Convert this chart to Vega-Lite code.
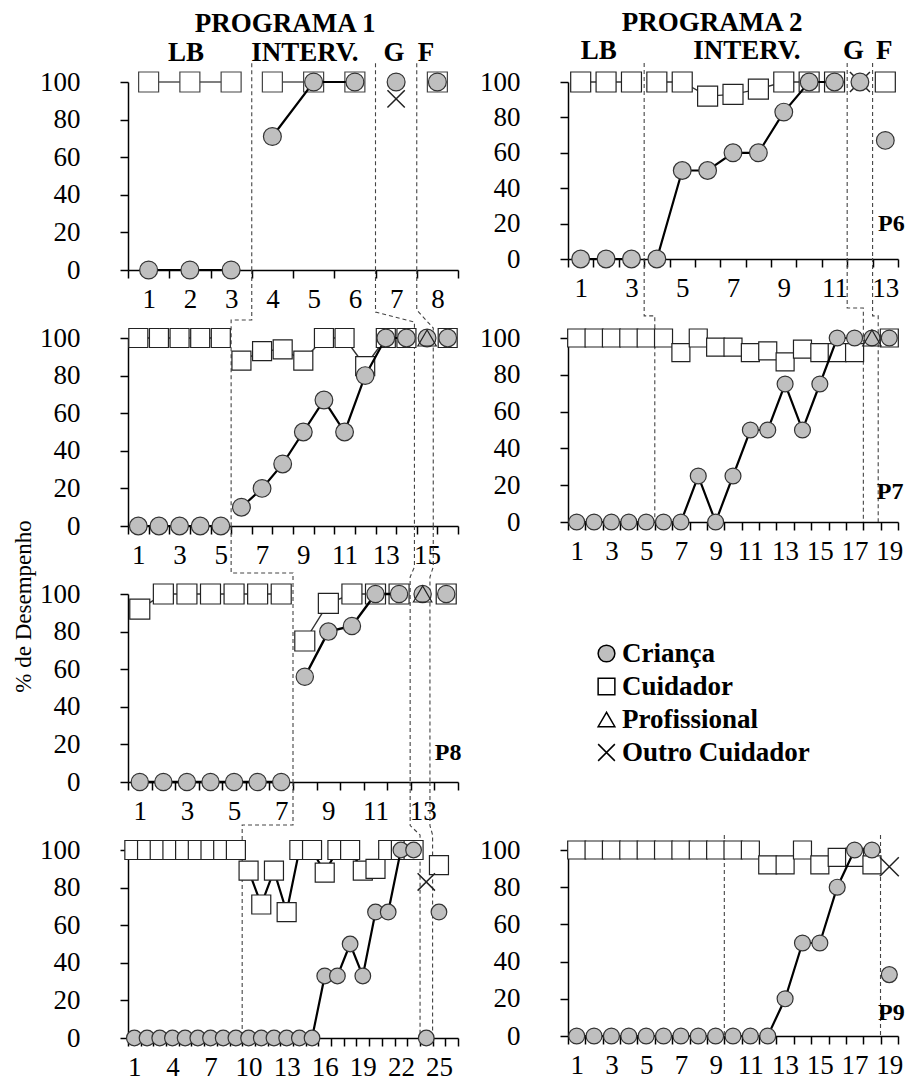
{
  "$schema": "https://vega.github.io/schema/vega-lite/v6.json",
  "padding": {"left": 12, "top": 9, "right": 5, "bottom": 5},
  "background": "white",
  "datasets": {
    "pts": [
      {"p":"a1","s":"u","x":1,"y":100,"f":"L"},{"p":"a1","s":"u","x":2,"y":100,"f":"L"},{"p":"a1","s":"u","x":3,"y":100,"f":"L"},
      {"p":"a1","s":"u","x":4,"y":100,"f":"I"},{"p":"a1","s":"u","x":5,"y":100,"f":"I"},{"p":"a1","s":"u","x":6,"y":100,"f":"I"},
      {"p":"a1","s":"u","x":8,"y":100,"f":"F"},
      {"p":"a1","s":"c","x":1,"y":0,"f":"L"},{"p":"a1","s":"c","x":2,"y":0,"f":"L"},{"p":"a1","s":"c","x":3,"y":0,"f":"L"},
      {"p":"a1","s":"c","x":4,"y":71,"f":"I"},{"p":"a1","s":"c","x":5,"y":100,"f":"I"},{"p":"a1","s":"c","x":6,"y":100,"f":"I"},
      {"p":"a1","s":"c","x":7,"y":100,"f":"G"},{"p":"a1","s":"c","x":8,"y":100,"f":"F"},
      {"p":"a1","s":"o","x":7,"y":91,"f":"G"},

      {"p":"b1","s":"u","x":1,"y":100,"f":"L"},{"p":"b1","s":"u","x":2,"y":100,"f":"L"},{"p":"b1","s":"u","x":3,"y":100,"f":"L"},
      {"p":"b1","s":"u","x":4,"y":100,"f":"I"},{"p":"b1","s":"u","x":5,"y":100,"f":"I"},{"p":"b1","s":"u","x":6,"y":92,"f":"I"},
      {"p":"b1","s":"u","x":7,"y":93,"f":"I"},{"p":"b1","s":"u","x":8,"y":96,"f":"I"},{"p":"b1","s":"u","x":9,"y":100,"f":"I"},
      {"p":"b1","s":"u","x":10,"y":100,"f":"I"},{"p":"b1","s":"u","x":11,"y":100,"f":"I"},
      {"p":"b1","s":"u","x":13,"y":100,"f":"F"},
      {"p":"b1","s":"c","x":1,"y":0,"f":"L"},{"p":"b1","s":"c","x":2,"y":0,"f":"L"},{"p":"b1","s":"c","x":3,"y":0,"f":"L"},
      {"p":"b1","s":"c","x":4,"y":0,"f":"I"},{"p":"b1","s":"c","x":5,"y":50,"f":"I"},{"p":"b1","s":"c","x":6,"y":50,"f":"I"},
      {"p":"b1","s":"c","x":7,"y":60,"f":"I"},{"p":"b1","s":"c","x":8,"y":60,"f":"I"},{"p":"b1","s":"c","x":9,"y":83,"f":"I"},
      {"p":"b1","s":"c","x":10,"y":100,"f":"I"},{"p":"b1","s":"c","x":11,"y":100,"f":"I"},
      {"p":"b1","s":"c","x":12,"y":100,"f":"G"},{"p":"b1","s":"c","x":13,"y":67,"f":"F"},
      {"p":"b1","s":"o","x":12,"y":100,"f":"G"},

      {"p":"a2","s":"u","x":1,"y":100,"f":"L"},{"p":"a2","s":"u","x":2,"y":100,"f":"L"},{"p":"a2","s":"u","x":3,"y":100,"f":"L"},
      {"p":"a2","s":"u","x":4,"y":100,"f":"L"},{"p":"a2","s":"u","x":5,"y":100,"f":"L"},
      {"p":"a2","s":"u","x":6,"y":88,"f":"I"},{"p":"a2","s":"u","x":7,"y":93,"f":"I"},{"p":"a2","s":"u","x":8,"y":94,"f":"I"},
      {"p":"a2","s":"u","x":9,"y":88,"f":"I"},{"p":"a2","s":"u","x":10,"y":100,"f":"I"},{"p":"a2","s":"u","x":11,"y":100,"f":"I"},
      {"p":"a2","s":"u","x":12,"y":85,"f":"I"},{"p":"a2","s":"u","x":13,"y":100,"f":"I"},{"p":"a2","s":"u","x":14,"y":100,"f":"I"},
      {"p":"a2","s":"u","x":16,"y":100,"f":"F"},
      {"p":"a2","s":"c","x":1,"y":0,"f":"L"},{"p":"a2","s":"c","x":2,"y":0,"f":"L"},{"p":"a2","s":"c","x":3,"y":0,"f":"L"},
      {"p":"a2","s":"c","x":4,"y":0,"f":"L"},{"p":"a2","s":"c","x":5,"y":0,"f":"L"},
      {"p":"a2","s":"c","x":6,"y":10,"f":"I"},{"p":"a2","s":"c","x":7,"y":20,"f":"I"},{"p":"a2","s":"c","x":8,"y":33,"f":"I"},
      {"p":"a2","s":"c","x":9,"y":50,"f":"I"},{"p":"a2","s":"c","x":10,"y":67,"f":"I"},{"p":"a2","s":"c","x":11,"y":50,"f":"I"},
      {"p":"a2","s":"c","x":12,"y":80,"f":"I"},{"p":"a2","s":"c","x":13,"y":100,"f":"I"},{"p":"a2","s":"c","x":14,"y":100,"f":"I"},
      {"p":"a2","s":"c","x":15,"y":100,"f":"G"},{"p":"a2","s":"c","x":16,"y":100,"f":"F"},
      {"p":"a2","s":"p","x":15,"y":100,"f":"G"},

      {"p":"b2","s":"u","x":1,"y":100,"f":"L"},{"p":"b2","s":"u","x":2,"y":100,"f":"L"},{"p":"b2","s":"u","x":3,"y":100,"f":"L"},
      {"p":"b2","s":"u","x":4,"y":100,"f":"L"},{"p":"b2","s":"u","x":5,"y":100,"f":"L"},
      {"p":"b2","s":"u","x":6,"y":100,"f":"I"},{"p":"b2","s":"u","x":7,"y":92,"f":"I"},{"p":"b2","s":"u","x":8,"y":100,"f":"I"},
      {"p":"b2","s":"u","x":9,"y":95,"f":"I"},{"p":"b2","s":"u","x":10,"y":95,"f":"I"},{"p":"b2","s":"u","x":11,"y":92,"f":"I"},
      {"p":"b2","s":"u","x":12,"y":93,"f":"I"},{"p":"b2","s":"u","x":13,"y":87,"f":"I"},{"p":"b2","s":"u","x":14,"y":94,"f":"I"},
      {"p":"b2","s":"u","x":15,"y":92,"f":"I"},{"p":"b2","s":"u","x":16,"y":92,"f":"I"},{"p":"b2","s":"u","x":17,"y":92,"f":"I"},
      {"p":"b2","s":"u","x":19,"y":100,"f":"F"},
      {"p":"b2","s":"c","x":1,"y":0,"f":"L"},{"p":"b2","s":"c","x":2,"y":0,"f":"L"},{"p":"b2","s":"c","x":3,"y":0,"f":"L"},
      {"p":"b2","s":"c","x":4,"y":0,"f":"L"},{"p":"b2","s":"c","x":5,"y":0,"f":"L"},
      {"p":"b2","s":"c","x":6,"y":0,"f":"I"},{"p":"b2","s":"c","x":7,"y":0,"f":"I"},{"p":"b2","s":"c","x":8,"y":25,"f":"I"},
      {"p":"b2","s":"c","x":9,"y":0,"f":"I"},{"p":"b2","s":"c","x":10,"y":25,"f":"I"},{"p":"b2","s":"c","x":11,"y":50,"f":"I"},
      {"p":"b2","s":"c","x":12,"y":50,"f":"I"},{"p":"b2","s":"c","x":13,"y":75,"f":"I"},{"p":"b2","s":"c","x":14,"y":50,"f":"I"},
      {"p":"b2","s":"c","x":15,"y":75,"f":"I"},{"p":"b2","s":"c","x":16,"y":100,"f":"I"},{"p":"b2","s":"c","x":17,"y":100,"f":"I"},
      {"p":"b2","s":"c","x":18,"y":100,"f":"G"},{"p":"b2","s":"c","x":19,"y":100,"f":"F"},
      {"p":"b2","s":"p","x":18,"y":100,"f":"G"},

      {"p":"a3","s":"u","x":1,"y":92,"f":"L"},{"p":"a3","s":"u","x":2,"y":100,"f":"L"},{"p":"a3","s":"u","x":3,"y":100,"f":"L"},
      {"p":"a3","s":"u","x":4,"y":100,"f":"L"},{"p":"a3","s":"u","x":5,"y":100,"f":"L"},{"p":"a3","s":"u","x":6,"y":100,"f":"L"},
      {"p":"a3","s":"u","x":7,"y":100,"f":"L"},
      {"p":"a3","s":"u","x":8,"y":75,"f":"I"},{"p":"a3","s":"u","x":9,"y":95,"f":"I"},{"p":"a3","s":"u","x":10,"y":100,"f":"I"},
      {"p":"a3","s":"u","x":11,"y":100,"f":"I"},{"p":"a3","s":"u","x":12,"y":100,"f":"I"},
      {"p":"a3","s":"u","x":14,"y":100,"f":"F"},
      {"p":"a3","s":"c","x":1,"y":0,"f":"L"},{"p":"a3","s":"c","x":2,"y":0,"f":"L"},{"p":"a3","s":"c","x":3,"y":0,"f":"L"},
      {"p":"a3","s":"c","x":4,"y":0,"f":"L"},{"p":"a3","s":"c","x":5,"y":0,"f":"L"},{"p":"a3","s":"c","x":6,"y":0,"f":"L"},
      {"p":"a3","s":"c","x":7,"y":0,"f":"L"},
      {"p":"a3","s":"c","x":8,"y":56,"f":"I"},{"p":"a3","s":"c","x":9,"y":80,"f":"I"},{"p":"a3","s":"c","x":10,"y":83,"f":"I"},
      {"p":"a3","s":"c","x":11,"y":100,"f":"I"},{"p":"a3","s":"c","x":12,"y":100,"f":"I"},
      {"p":"a3","s":"c","x":13,"y":100,"f":"G"},{"p":"a3","s":"c","x":14,"y":100,"f":"F"},
      {"p":"a3","s":"p","x":13,"y":100,"f":"G"},

      {"p":"a4","s":"u","x":1,"y":100,"f":"L"},{"p":"a4","s":"u","x":2,"y":100,"f":"L"},{"p":"a4","s":"u","x":3,"y":100,"f":"L"},
      {"p":"a4","s":"u","x":4,"y":100,"f":"L"},{"p":"a4","s":"u","x":5,"y":100,"f":"L"},{"p":"a4","s":"u","x":6,"y":100,"f":"L"},
      {"p":"a4","s":"u","x":7,"y":100,"f":"L"},{"p":"a4","s":"u","x":8,"y":100,"f":"L"},{"p":"a4","s":"u","x":9,"y":100,"f":"L"},
      {"p":"a4","s":"u","x":10,"y":89,"f":"I"},{"p":"a4","s":"u","x":11,"y":71,"f":"I"},{"p":"a4","s":"u","x":12,"y":89,"f":"I"},
      {"p":"a4","s":"u","x":13,"y":67,"f":"I"},{"p":"a4","s":"u","x":14,"y":100,"f":"I"},{"p":"a4","s":"u","x":15,"y":100,"f":"I"},
      {"p":"a4","s":"u","x":16,"y":88,"f":"I"},{"p":"a4","s":"u","x":17,"y":100,"f":"I"},{"p":"a4","s":"u","x":18,"y":100,"f":"I"},
      {"p":"a4","s":"u","x":19,"y":89,"f":"I"},{"p":"a4","s":"u","x":20,"y":90,"f":"I"},{"p":"a4","s":"u","x":21,"y":100,"f":"I"},
      {"p":"a4","s":"u","x":22,"y":100,"f":"I"},{"p":"a4","s":"u","x":23,"y":100,"f":"I"},
      {"p":"a4","s":"u","x":25,"y":92,"f":"F"},
      {"p":"a4","s":"c","x":1,"y":0,"f":"L"},{"p":"a4","s":"c","x":2,"y":0,"f":"L"},{"p":"a4","s":"c","x":3,"y":0,"f":"L"},
      {"p":"a4","s":"c","x":4,"y":0,"f":"L"},{"p":"a4","s":"c","x":5,"y":0,"f":"L"},{"p":"a4","s":"c","x":6,"y":0,"f":"L"},
      {"p":"a4","s":"c","x":7,"y":0,"f":"L"},{"p":"a4","s":"c","x":8,"y":0,"f":"L"},{"p":"a4","s":"c","x":9,"y":0,"f":"L"},
      {"p":"a4","s":"c","x":10,"y":0,"f":"I"},{"p":"a4","s":"c","x":11,"y":0,"f":"I"},{"p":"a4","s":"c","x":12,"y":0,"f":"I"},
      {"p":"a4","s":"c","x":13,"y":0,"f":"I"},{"p":"a4","s":"c","x":14,"y":0,"f":"I"},{"p":"a4","s":"c","x":15,"y":0,"f":"I"},
      {"p":"a4","s":"c","x":16,"y":33,"f":"I"},{"p":"a4","s":"c","x":17,"y":33,"f":"I"},{"p":"a4","s":"c","x":18,"y":50,"f":"I"},
      {"p":"a4","s":"c","x":19,"y":33,"f":"I"},{"p":"a4","s":"c","x":20,"y":67,"f":"I"},{"p":"a4","s":"c","x":21,"y":67,"f":"I"},
      {"p":"a4","s":"c","x":22,"y":100,"f":"I"},{"p":"a4","s":"c","x":23,"y":100,"f":"I"},
      {"p":"a4","s":"c","x":24,"y":0,"f":"G"},{"p":"a4","s":"c","x":25,"y":67,"f":"F"},
      {"p":"a4","s":"o","x":24,"y":83,"f":"G"},

      {"p":"b4","s":"u","x":1,"y":100,"f":"L"},{"p":"b4","s":"u","x":2,"y":100,"f":"L"},{"p":"b4","s":"u","x":3,"y":100,"f":"L"},
      {"p":"b4","s":"u","x":4,"y":100,"f":"L"},{"p":"b4","s":"u","x":5,"y":100,"f":"L"},{"p":"b4","s":"u","x":6,"y":100,"f":"L"},
      {"p":"b4","s":"u","x":7,"y":100,"f":"L"},{"p":"b4","s":"u","x":8,"y":100,"f":"L"},{"p":"b4","s":"u","x":9,"y":100,"f":"L"},
      {"p":"b4","s":"u","x":10,"y":100,"f":"I"},{"p":"b4","s":"u","x":11,"y":100,"f":"I"},{"p":"b4","s":"u","x":12,"y":92,"f":"I"},
      {"p":"b4","s":"u","x":13,"y":92,"f":"I"},{"p":"b4","s":"u","x":14,"y":100,"f":"I"},{"p":"b4","s":"u","x":15,"y":92,"f":"I"},
      {"p":"b4","s":"u","x":16,"y":96,"f":"I"},{"p":"b4","s":"u","x":17,"y":96,"f":"I"},{"p":"b4","s":"u","x":18,"y":92,"f":"I"},
      {"p":"b4","s":"c","x":1,"y":0,"f":"L"},{"p":"b4","s":"c","x":2,"y":0,"f":"L"},{"p":"b4","s":"c","x":3,"y":0,"f":"L"},
      {"p":"b4","s":"c","x":4,"y":0,"f":"L"},{"p":"b4","s":"c","x":5,"y":0,"f":"L"},{"p":"b4","s":"c","x":6,"y":0,"f":"L"},
      {"p":"b4","s":"c","x":7,"y":0,"f":"L"},{"p":"b4","s":"c","x":8,"y":0,"f":"L"},{"p":"b4","s":"c","x":9,"y":0,"f":"L"},
      {"p":"b4","s":"c","x":10,"y":0,"f":"I"},{"p":"b4","s":"c","x":11,"y":0,"f":"I"},{"p":"b4","s":"c","x":12,"y":0,"f":"I"},
      {"p":"b4","s":"c","x":13,"y":20,"f":"I"},{"p":"b4","s":"c","x":14,"y":50,"f":"I"},{"p":"b4","s":"c","x":15,"y":50,"f":"I"},
      {"p":"b4","s":"c","x":16,"y":80,"f":"I"},{"p":"b4","s":"c","x":17,"y":100,"f":"I"},{"p":"b4","s":"c","x":18,"y":100,"f":"I"},
      {"p":"b4","s":"c","x":19,"y":33,"f":"F"},
      {"p":"b4","s":"o","x":19,"y":91,"f":"F"}
    ],
    "guides": [
      {"p":"a1","g":"L","k":1,"xf":0.375,"y":110},{"p":"a1","g":"L","k":2,"xf":0.375,"y":0},
      {"p":"a1","g":"G","k":1,"xf":0.75,"y":110},{"p":"a1","g":"G","k":2,"xf":0.75,"y":0},
      {"p":"a1","g":"F","k":1,"xf":0.875,"y":110},{"p":"a1","g":"F","k":2,"xf":0.875,"y":0},

      {"p":"a2","g":"L","k":1,"xf":0.375,"y":136.2},{"p":"a2","g":"L","k":2,"xf":0.375,"y":109.6},{"p":"a2","g":"L","k":3,"xf":0.3125,"y":109.6},{"p":"a2","g":"L","k":4,"xf":0.3125,"y":0},
      {"p":"a2","g":"G","k":1,"xf":0.75,"y":136.2},{"p":"a2","g":"G","k":2,"xf":0.75,"y":113.8},{"p":"a2","g":"G","k":3,"xf":0.868,"y":108.5},{"p":"a2","g":"G","k":4,"xf":0.868,"y":0},
      {"p":"a2","g":"F","k":1,"xf":0.875,"y":136.2},{"p":"a2","g":"F","k":2,"xf":0.875,"y":114.9},{"p":"a2","g":"F","k":3,"xf":0.925,"y":105.3},{"p":"a2","g":"F","k":4,"xf":0.925,"y":0},

      {"p":"a3","g":"L","k":1,"xf":0.3125,"y":136.2},{"p":"a3","g":"L","k":2,"xf":0.3125,"y":111.2},{"p":"a3","g":"L","k":3,"xf":0.5,"y":111.2},{"p":"a3","g":"L","k":4,"xf":0.5,"y":0},
      {"p":"a3","g":"G","k":1,"xf":0.868,"y":136.2},{"p":"a3","g":"G","k":2,"xf":0.868,"y":114.4},{"p":"a3","g":"G","k":3,"xf":0.855,"y":109},{"p":"a3","g":"G","k":4,"xf":0.855,"y":0},
      {"p":"a3","g":"F","k":1,"xf":0.925,"y":136.2},{"p":"a3","g":"F","k":2,"xf":0.925,"y":114.4},{"p":"a3","g":"F","k":3,"xf":0.915,"y":109},{"p":"a3","g":"F","k":4,"xf":0.915,"y":0},

      {"p":"a4","g":"L","k":1,"xf":0.5,"y":136.2},{"p":"a4","g":"L","k":2,"xf":0.5,"y":113.3},{"p":"a4","g":"L","k":3,"xf":0.346,"y":113.3},{"p":"a4","g":"L","k":4,"xf":0.346,"y":0},
      {"p":"a4","g":"G","k":1,"xf":0.855,"y":136.2},{"p":"a4","g":"G","k":2,"xf":0.855,"y":113},{"p":"a4","g":"G","k":3,"xf":0.885,"y":108},{"p":"a4","g":"G","k":4,"xf":0.885,"y":0},
      {"p":"a4","g":"F","k":1,"xf":0.915,"y":136.2},{"p":"a4","g":"F","k":2,"xf":0.915,"y":113},{"p":"a4","g":"F","k":3,"xf":0.923,"y":108},{"p":"a4","g":"F","k":4,"xf":0.923,"y":0},

      {"p":"b1","g":"L","k":1,"xf":0.2308,"y":110.7},{"p":"b1","g":"L","k":2,"xf":0.2308,"y":0},
      {"p":"b1","g":"G","k":1,"xf":0.846,"y":110.7},{"p":"b1","g":"G","k":2,"xf":0.846,"y":0},
      {"p":"b1","g":"F","k":1,"xf":0.923,"y":110.7},{"p":"b1","g":"F","k":2,"xf":0.923,"y":0},

      {"p":"b2","g":"L","k":1,"xf":0.2308,"y":143.5},{"p":"b2","g":"L","k":2,"xf":0.2308,"y":112},{"p":"b2","g":"L","k":3,"xf":0.263,"y":112},{"p":"b2","g":"L","k":4,"xf":0.263,"y":0},
      {"p":"b2","g":"G","k":1,"xf":0.846,"y":143.5},{"p":"b2","g":"G","k":2,"xf":0.846,"y":116.3},{"p":"b2","g":"G","k":3,"xf":0.895,"y":116.3},{"p":"b2","g":"G","k":4,"xf":0.895,"y":0},
      {"p":"b2","g":"F","k":1,"xf":0.923,"y":143.5},{"p":"b2","g":"F","k":2,"xf":0.923,"y":112},{"p":"b2","g":"F","k":3,"xf":0.94,"y":112},{"p":"b2","g":"F","k":4,"xf":0.94,"y":0},

      {"p":"b4","g":"L","k":1,"xf":0.4737,"y":108},{"p":"b4","g":"L","k":2,"xf":0.4737,"y":0},
      {"p":"b4","g":"F","k":1,"xf":0.947,"y":108},{"p":"b4","g":"F","k":2,"xf":0.947,"y":0}
    ],
    "texts": [
      {"p":"a1","w":"h","t":"PROGRAMA 1","xf":0.476,"y":131.1},
      {"p":"a1","w":"h","t":"LB","xf":0.176,"y":115.4},
      {"p":"a1","w":"h","t":"INTERV.","xf":0.536,"y":115.4},
      {"p":"a1","w":"h","t":"G","xf":0.806,"y":115.4},
      {"p":"a1","w":"h","t":"F","xf":0.903,"y":115.4},
      {"p":"b1","w":"h","t":"PROGRAMA 2","xf":0.437,"y":133.3},
      {"p":"b1","w":"h","t":"LB","xf":0.093,"y":117.5},
      {"p":"b1","w":"h","t":"INTERV.","xf":0.542,"y":117.5},
      {"p":"b1","w":"h","t":"G","xf":0.865,"y":117.5},
      {"p":"b1","w":"h","t":"F","xf":0.958,"y":117.5},
      {"p":"b1","w":"p","t":"P6","xf":0.98,"y":20},
      {"p":"b2","w":"p","t":"P7","xf":0.976,"y":16.3},
      {"p":"a3","w":"p","t":"P8","xf":0.97,"y":15.5},
      {"p":"b4","w":"p","t":"P9","xf":0.98,"y":12.4}
    ],
    "leg": [
      {"tipo":"Criança","k":5},{"tipo":"Cuidador","k":5},{"tipo":"Profissional","k":5},{"tipo":"Outro Cuidador","k":5}
    ]
  },
  "bounds": "flush",
  "columns": 2,
  "spacing": {"row": 68, "column": 110},
  "resolve": {"scale": {"shape": "independent", "fill": "independent"}},
  "concat": [
    {
      "width": 330, "height": 188,
      "resolve": {"scale": {"x": "independent"}},
      "layer": [
        {
          "encoding": {
            "x": {"field": "xf", "type": "quantitative", "scale": {"domain": [0, 1]}, "axis": null},
            "y": {"field": "y", "type": "quantitative", "scale": {"domain": [0, 100], "nice": false}, "title": null}
          },
          "layer": [
            {"data": {"name": "guides"}, "transform": [{"filter": "datum.p === 'a1'"}], "mark": {"type": "line", "stroke": "#444", "strokeWidth": 1.1, "strokeDash": [4, 3]}, "encoding": {"detail": {"field": "g"}, "order": {"field": "k"}}},
            {"data": {"name": "texts"}, "transform": [{"filter": "datum.p === 'a1' && datum.w === 'h'"}], "mark": {"type": "text", "font": "Liberation Serif", "fontWeight": "bold", "fontSize": 27, "align": "center", "baseline": "middle", "color": "black"}, "encoding": {"text": {"field": "t"}}}
          ]
        },
        {
          "data": {"name": "pts"},
          "transform": [{"filter": "datum.p === 'a1'"}],
          "encoding": {
            "x": {"field": "x", "type": "ordinal", "scale": {"type": "band", "domain": [1,2,3,4,5,6,7,8], "paddingInner": 0, "paddingOuter": 0}, "axis": {"title": null, "tickBand": "extent", "labelAngle": 0, "labelOverlap": false}},
            "y": {"field": "y", "type": "quantitative", "scale": {"domain": [0, 100], "nice": false}, "title": null}
          },
          "layer": [
            {"transform": [{"filter": "datum.s === 'u'"}], "mark": {"type": "line", "stroke": "#555", "strokeWidth": 1.4}, "encoding": {"detail": {"field": "f"}}},
            {"transform": [{"filter": "datum.s === 'u'"}], "mark": {"type": "point", "shape": "square", "filled": true, "fill": "white", "stroke": "#444", "strokeWidth": 1.2, "size": 400, "opacity": 1}},
            {"transform": [{"filter": "datum.s === 'c'"}], "mark": {"type": "line", "stroke": "black", "strokeWidth": 2.2}, "encoding": {"detail": {"field": "f"}}},
            {"transform": [{"filter": "datum.s === 'c'"}], "mark": {"type": "point", "shape": "circle", "filled": true, "fill": "#bfbfbf", "stroke": "#333", "strokeWidth": 1.2, "size": 320, "opacity": 1}},
            {"transform": [{"filter": "datum.s === 'o'"}], "mark": {"type": "point", "shape": "M-1,-1L1,1M-1,1L1,-1", "filled": false, "stroke": "#222", "strokeWidth": 1.5, "size": 300, "opacity": 1}}
          ]
        }
      ]
    },
    {
      "width": 330, "height": 177,
      "resolve": {"scale": {"x": "independent"}},
      "layer": [
        {
          "encoding": {
            "x": {"field": "xf", "type": "quantitative", "scale": {"domain": [0, 1]}, "axis": null},
            "y": {"field": "y", "type": "quantitative", "scale": {"domain": [0, 100], "nice": false}, "title": null}
          },
          "layer": [
            {"data": {"name": "guides"}, "transform": [{"filter": "datum.p === 'b1'"}], "mark": {"type": "line", "stroke": "#444", "strokeWidth": 1.1, "strokeDash": [4, 3]}, "encoding": {"detail": {"field": "g"}, "order": {"field": "k"}}},
            {"data": {"name": "texts"}, "transform": [{"filter": "datum.p === 'b1' && datum.w === 'h'"}], "mark": {"type": "text", "font": "Liberation Serif", "fontWeight": "bold", "fontSize": 27, "align": "center", "baseline": "middle", "color": "black"}, "encoding": {"text": {"field": "t"}}},
            {"data": {"name": "texts"}, "transform": [{"filter": "datum.p === 'b1' && datum.w === 'p'"}], "mark": {"type": "text", "font": "Liberation Serif", "fontWeight": "bold", "fontSize": 24, "align": "center", "baseline": "middle", "color": "black"}, "encoding": {"text": {"field": "t"}}}
          ]
        },
        {
          "data": {"name": "pts"},
          "transform": [{"filter": "datum.p === 'b1'"}],
          "encoding": {
            "x": {"field": "x", "type": "ordinal", "scale": {"type": "band", "domain": [1,2,3,4,5,6,7,8,9,10,11,12,13], "paddingInner": 0, "paddingOuter": 0}, "axis": {"title": null, "tickBand": "extent", "labelAngle": 0, "labelOverlap": false, "labelExpr": "datum.value % 2 === 1 ? datum.label : ''"}},
            "y": {"field": "y", "type": "quantitative", "scale": {"domain": [0, 100], "nice": false}, "title": null}
          },
          "layer": [
            {"transform": [{"filter": "datum.s === 'u'"}], "mark": {"type": "line", "stroke": "#333", "strokeWidth": 1.4}, "encoding": {"detail": {"field": "f"}}},
            {"transform": [{"filter": "datum.s === 'o'"}], "mark": {"type": "point", "shape": "M-1,-1L1,1M-1,1L1,-1", "filled": false, "stroke": "#222", "strokeWidth": 1.5, "size": 400, "opacity": 1}},
            {"transform": [{"filter": "datum.s === 'u'"}], "mark": {"type": "point", "shape": "square", "filled": true, "fill": "white", "stroke": "#222", "strokeWidth": 1.2, "size": 400, "opacity": 1}},
            {"transform": [{"filter": "datum.s === 'c'"}], "mark": {"type": "line", "stroke": "black", "strokeWidth": 2.2}, "encoding": {"detail": {"field": "f"}}},
            {"transform": [{"filter": "datum.s === 'c'"}], "mark": {"type": "point", "shape": "circle", "filled": true, "fill": "#bfbfbf", "stroke": "#333", "strokeWidth": 1.2, "size": 314, "opacity": 1}}
          ]
        }
      ]
    },
    {
      "width": 330, "height": 188,
      "resolve": {"scale": {"x": "independent"}},
      "layer": [
        {
          "encoding": {
            "x": {"field": "xf", "type": "quantitative", "scale": {"domain": [0, 1]}, "axis": null},
            "y": {"field": "y", "type": "quantitative", "scale": {"domain": [0, 100], "nice": false}, "title": null}
          },
          "layer": [
            {"data": {"name": "guides"}, "transform": [{"filter": "datum.p === 'a2'"}], "mark": {"type": "line", "stroke": "#444", "strokeWidth": 1.1, "strokeDash": [4, 3]}, "encoding": {"detail": {"field": "g"}, "order": {"field": "k"}}}
          ]
        },
        {
          "data": {"name": "pts"},
          "transform": [{"filter": "datum.p === 'a2'"}],
          "encoding": {
            "x": {"field": "x", "type": "ordinal", "scale": {"type": "band", "domain": [1,2,3,4,5,6,7,8,9,10,11,12,13,14,15,16], "paddingInner": 0, "paddingOuter": 0}, "axis": {"title": null, "tickBand": "extent", "labelAngle": 0, "labelOverlap": false, "labelExpr": "datum.value % 2 === 1 ? datum.label : ''"}},
            "y": {"field": "y", "type": "quantitative", "scale": {"domain": [0, 100], "nice": false}, "title": null}
          },
          "layer": [
            {"transform": [{"filter": "datum.s === 'u'"}], "mark": {"type": "line", "stroke": "#333", "strokeWidth": 1.4}, "encoding": {"detail": {"field": "f"}}},
            {"transform": [{"filter": "datum.s === 'u'"}], "mark": {"type": "point", "shape": "square", "filled": true, "fill": "white", "stroke": "#222", "strokeWidth": 1.2, "size": 361, "opacity": 1}},
            {"transform": [{"filter": "datum.s === 'c'"}], "mark": {"type": "line", "stroke": "black", "strokeWidth": 2.2}, "encoding": {"detail": {"field": "f"}}},
            {"transform": [{"filter": "datum.s === 'c'"}], "mark": {"type": "point", "shape": "circle", "filled": true, "fill": "#bfbfbf", "stroke": "#333", "strokeWidth": 1.2, "size": 314, "opacity": 1}},
            {"transform": [{"filter": "datum.s === 'p'"}], "mark": {"type": "point", "shape": "triangle-up", "filled": false, "stroke": "#222", "strokeWidth": 1.2, "size": 340, "opacity": 1}}
          ]
        }
      ]
    },
    {
      "width": 330, "height": 184,
      "resolve": {"scale": {"x": "independent"}},
      "layer": [
        {
          "encoding": {
            "x": {"field": "xf", "type": "quantitative", "scale": {"domain": [0, 1]}, "axis": null},
            "y": {"field": "y", "type": "quantitative", "scale": {"domain": [0, 100], "nice": false}, "title": null}
          },
          "layer": [
            {"data": {"name": "guides"}, "transform": [{"filter": "datum.p === 'b2'"}], "mark": {"type": "line", "stroke": "#444", "strokeWidth": 1.1, "strokeDash": [4, 3]}, "encoding": {"detail": {"field": "g"}, "order": {"field": "k"}}},
            {"data": {"name": "texts"}, "transform": [{"filter": "datum.p === 'b2' && datum.w === 'p'"}], "mark": {"type": "text", "font": "Liberation Serif", "fontWeight": "bold", "fontSize": 24, "align": "center", "baseline": "middle", "color": "black"}, "encoding": {"text": {"field": "t"}}}
          ]
        },
        {
          "data": {"name": "pts"},
          "transform": [{"filter": "datum.p === 'b2'"}],
          "encoding": {
            "x": {"field": "x", "type": "ordinal", "scale": {"type": "band", "domain": [1,2,3,4,5,6,7,8,9,10,11,12,13,14,15,16,17,18,19], "paddingInner": 0, "paddingOuter": 0}, "axis": {"title": null, "tickBand": "extent", "labelAngle": 0, "labelOverlap": false, "labelExpr": "datum.value % 2 === 1 ? datum.label : ''"}},
            "y": {"field": "y", "type": "quantitative", "scale": {"domain": [0, 100], "nice": false}, "title": null}
          },
          "layer": [
            {"transform": [{"filter": "datum.s === 'u'"}], "mark": {"type": "line", "stroke": "#333", "strokeWidth": 1.4}, "encoding": {"detail": {"field": "f"}}},
            {"transform": [{"filter": "datum.s === 'u'"}], "mark": {"type": "point", "shape": "square", "filled": true, "fill": "white", "stroke": "#222", "strokeWidth": 1.2, "size": 324, "opacity": 1}},
            {"transform": [{"filter": "datum.s === 'c'"}], "mark": {"type": "line", "stroke": "black", "strokeWidth": 2.2}, "encoding": {"detail": {"field": "f"}}},
            {"transform": [{"filter": "datum.s === 'c'"}], "mark": {"type": "point", "shape": "circle", "filled": true, "fill": "#bfbfbf", "stroke": "#333", "strokeWidth": 1.2, "size": 254, "opacity": 1}},
            {"transform": [{"filter": "datum.s === 'p'"}], "mark": {"type": "point", "shape": "triangle-up", "filled": false, "stroke": "#222", "strokeWidth": 1.2, "size": 340, "opacity": 1}}
          ]
        }
      ]
    },
    {
      "width": 330, "height": 188,
      "resolve": {"scale": {"x": "independent"}},
      "layer": [
        {
          "encoding": {
            "x": {"field": "xf", "type": "quantitative", "scale": {"domain": [0, 1]}, "axis": null},
            "y": {"field": "y", "type": "quantitative", "scale": {"domain": [0, 100], "nice": false}, "title": "% de Desempenho", "axis": {"titleY": 12, "titlePadding": 4}}
          },
          "layer": [
            {"data": {"name": "guides"}, "transform": [{"filter": "datum.p === 'a3'"}], "mark": {"type": "line", "stroke": "#444", "strokeWidth": 1.1, "strokeDash": [4, 3]}, "encoding": {"detail": {"field": "g"}, "order": {"field": "k"}}},
            {"data": {"name": "texts"}, "transform": [{"filter": "datum.p === 'a3' && datum.w === 'p'"}], "mark": {"type": "text", "font": "Liberation Serif", "fontWeight": "bold", "fontSize": 24, "align": "center", "baseline": "middle", "color": "black"}, "encoding": {"text": {"field": "t"}}}
          ]
        },
        {
          "data": {"name": "pts"},
          "transform": [{"filter": "datum.p === 'a3'"}],
          "encoding": {
            "x": {"field": "x", "type": "ordinal", "scale": {"type": "band", "domain": [1,2,3,4,5,6,7,8,9,10,11,12,13,14], "paddingInner": 0, "paddingOuter": 0}, "axis": {"title": null, "tickBand": "extent", "labelAngle": 0, "labelOverlap": false, "labelExpr": "datum.value % 2 === 1 ? datum.label : ''"}},
            "y": {"field": "y", "type": "quantitative", "scale": {"domain": [0, 100], "nice": false}, "title": "% de Desempenho", "axis": {"titleY": 12, "titlePadding": 4}}
          },
          "layer": [
            {"transform": [{"filter": "datum.s === 'u'"}], "mark": {"type": "line", "stroke": "#333", "strokeWidth": 1.4}, "encoding": {"detail": {"field": "f"}}},
            {"transform": [{"filter": "datum.s === 'u'"}], "mark": {"type": "point", "shape": "square", "filled": true, "fill": "white", "stroke": "#222", "strokeWidth": 1.2, "size": 400, "opacity": 1}},
            {"transform": [{"filter": "datum.s === 'c'"}], "mark": {"type": "line", "stroke": "black", "strokeWidth": 2.4}, "encoding": {"detail": {"field": "f"}}},
            {"transform": [{"filter": "datum.s === 'c'"}], "mark": {"type": "point", "shape": "circle", "filled": true, "fill": "#bfbfbf", "stroke": "#333", "strokeWidth": 1.2, "size": 300, "opacity": 1}},
            {"transform": [{"filter": "datum.s === 'p'"}], "mark": {"type": "point", "shape": "triangle-up", "filled": false, "stroke": "#222", "strokeWidth": 1.2, "size": 340, "opacity": 1}}
          ]
        }
      ]
    },
    {
      "width": 330, "height": 168,
      "data": {"name": "leg"},
      "mark": {"type": "point", "clip": true, "stroke": "black", "opacity": 1},
      "encoding": {
        "x": {"field": "k", "type": "quantitative", "scale": {"domain": [0, 1]}, "axis": null},
        "shape": {
          "field": "tipo", "type": "nominal",
          "scale": {"domain": ["Criança", "Cuidador", "Profissional", "Outro Cuidador"], "range": ["circle", "square", "triangle-up", "M-1,-1L1,1M-1,1L1,-1"]},
          "legend": {"title": null, "orient": "none", "legendX": 25, "legendY": 46, "labelFont": "Liberation Serif", "labelFontWeight": "bold", "labelFontSize": 27, "labelColor": "black", "labelLimit": 400, "symbolSize": 280, "rowPadding": 5, "labelOffset": 2,
            "encode": {"symbols": {"update": {"stroke": {"value": "black"}, "strokeWidth": {"value": 1.5}, "opacity": {"value": 1}}}}}
        },
        "fill": {
          "field": "tipo", "type": "nominal",
          "scale": {"domain": ["Criança", "Cuidador", "Profissional", "Outro Cuidador"], "range": ["#bfbfbf", "#ffffff", "#ffffff", "#ffffff"]},
          "legend": {"title": null, "orient": "none", "legendX": 25, "legendY": 46, "labelFont": "Liberation Serif", "labelFontWeight": "bold", "labelFontSize": 27, "labelColor": "black", "labelLimit": 400, "symbolSize": 280, "rowPadding": 5, "labelOffset": 2,
            "encode": {"symbols": {"update": {"stroke": {"value": "black"}, "strokeWidth": {"value": 1.5}, "opacity": {"value": 1}}}}}
        }
      }
    },
    {
      "width": 330, "height": 188,
      "resolve": {"scale": {"x": "independent"}},
      "layer": [
        {
          "encoding": {
            "x": {"field": "xf", "type": "quantitative", "scale": {"domain": [0, 1]}, "axis": null},
            "y": {"field": "y", "type": "quantitative", "scale": {"domain": [0, 100], "nice": false}, "title": null}
          },
          "layer": [
            {"data": {"name": "guides"}, "transform": [{"filter": "datum.p === 'a4'"}], "mark": {"type": "line", "stroke": "#444", "strokeWidth": 1.1, "strokeDash": [4, 3]}, "encoding": {"detail": {"field": "g"}, "order": {"field": "k"}}}
          ]
        },
        {
          "data": {"name": "pts"},
          "transform": [{"filter": "datum.p === 'a4'"}],
          "encoding": {
            "x": {"field": "x", "type": "ordinal", "scale": {"type": "band", "domain": [1,2,3,4,5,6,7,8,9,10,11,12,13,14,15,16,17,18,19,20,21,22,23,24,25,26], "paddingInner": 0, "paddingOuter": 0}, "axis": {"title": null, "tickBand": "extent", "labelAngle": 0, "labelOverlap": false, "labelExpr": "datum.value % 3 === 1 ? datum.label : ''"}},
            "y": {"field": "y", "type": "quantitative", "scale": {"domain": [0, 100], "nice": false}, "title": null}
          },
          "layer": [
            {"transform": [{"filter": "datum.s === 'u'"}], "mark": {"type": "line", "stroke": "black", "strokeWidth": 2.2}, "encoding": {"detail": {"field": "f"}}},
            {"transform": [{"filter": "datum.s === 'u'"}], "mark": {"type": "point", "shape": "square", "filled": true, "fill": "white", "stroke": "#222", "strokeWidth": 1.2, "size": 361, "opacity": 1}},
            {"transform": [{"filter": "datum.s === 'c'"}], "mark": {"type": "line", "stroke": "black", "strokeWidth": 2.2}, "encoding": {"detail": {"field": "f"}}},
            {"transform": [{"filter": "datum.s === 'c'"}], "mark": {"type": "point", "shape": "circle", "filled": true, "fill": "#bfbfbf", "stroke": "#333", "strokeWidth": 1.2, "size": 245, "opacity": 1}},
            {"transform": [{"filter": "datum.s === 'o'"}], "mark": {"type": "point", "shape": "M-1,-1L1,1M-1,1L1,-1", "filled": false, "stroke": "#222", "strokeWidth": 1.5, "size": 300, "opacity": 1}}
          ]
        }
      ]
    },
    {
      "width": 330, "height": 186,
      "resolve": {"scale": {"x": "independent"}},
      "layer": [
        {
          "encoding": {
            "x": {"field": "xf", "type": "quantitative", "scale": {"domain": [0, 1]}, "axis": null},
            "y": {"field": "y", "type": "quantitative", "scale": {"domain": [0, 100], "nice": false}, "title": null}
          },
          "layer": [
            {"data": {"name": "guides"}, "transform": [{"filter": "datum.p === 'b4'"}], "mark": {"type": "line", "stroke": "#444", "strokeWidth": 1.1, "strokeDash": [4, 3]}, "encoding": {"detail": {"field": "g"}, "order": {"field": "k"}}},
            {"data": {"name": "texts"}, "transform": [{"filter": "datum.p === 'b4' && datum.w === 'p'"}], "mark": {"type": "text", "font": "Liberation Serif", "fontWeight": "bold", "fontSize": 24, "align": "center", "baseline": "middle", "color": "black"}, "encoding": {"text": {"field": "t"}}}
          ]
        },
        {
          "data": {"name": "pts"},
          "transform": [{"filter": "datum.p === 'b4'"}],
          "encoding": {
            "x": {"field": "x", "type": "ordinal", "scale": {"type": "band", "domain": [1,2,3,4,5,6,7,8,9,10,11,12,13,14,15,16,17,18,19], "paddingInner": 0, "paddingOuter": 0}, "axis": {"title": null, "tickBand": "extent", "labelAngle": 0, "labelOverlap": false, "labelExpr": "datum.value % 2 === 1 ? datum.label : ''"}},
            "y": {"field": "y", "type": "quantitative", "scale": {"domain": [0, 100], "nice": false}, "title": null}
          },
          "layer": [
            {"transform": [{"filter": "datum.s === 'u'"}], "mark": {"type": "line", "stroke": "#333", "strokeWidth": 1.4}, "encoding": {"detail": {"field": "f"}}},
            {"transform": [{"filter": "datum.s === 'u'"}], "mark": {"type": "point", "shape": "square", "filled": true, "fill": "white", "stroke": "#222", "strokeWidth": 1.2, "size": 324, "opacity": 1}},
            {"transform": [{"filter": "datum.s === 'c'"}], "mark": {"type": "line", "stroke": "black", "strokeWidth": 2.2}, "encoding": {"detail": {"field": "f"}}},
            {"transform": [{"filter": "datum.s === 'c'"}], "mark": {"type": "point", "shape": "circle", "filled": true, "fill": "#bfbfbf", "stroke": "#333", "strokeWidth": 1.2, "size": 254, "opacity": 1}},
            {"transform": [{"filter": "datum.s === 'o'"}], "mark": {"type": "point", "shape": "M-1,-1L1,1M-1,1L1,-1", "filled": false, "stroke": "#222", "strokeWidth": 1.5, "size": 360, "opacity": 1}}
          ]
        }
      ]
    }
  ],
  "config": {
    "view": {"stroke": null},
    "font": "Liberation Serif",
    "axis": {
      "domainColor": "black", "domainWidth": 1.5, "tickColor": "black", "tickWidth": 1.5, "tickSize": 8,
      "labelFont": "Liberation Serif", "labelFontSize": 27, "labelColor": "black", "grid": false,
      "titleFont": "Liberation Serif", "titleFontSize": 23, "titleFontWeight": "normal", "titleColor": "black"
    },
    "axisY": {"tickCount": 6, "labelPadding": 40},
    "axisX": {"labelPadding": 8}
  }
}
